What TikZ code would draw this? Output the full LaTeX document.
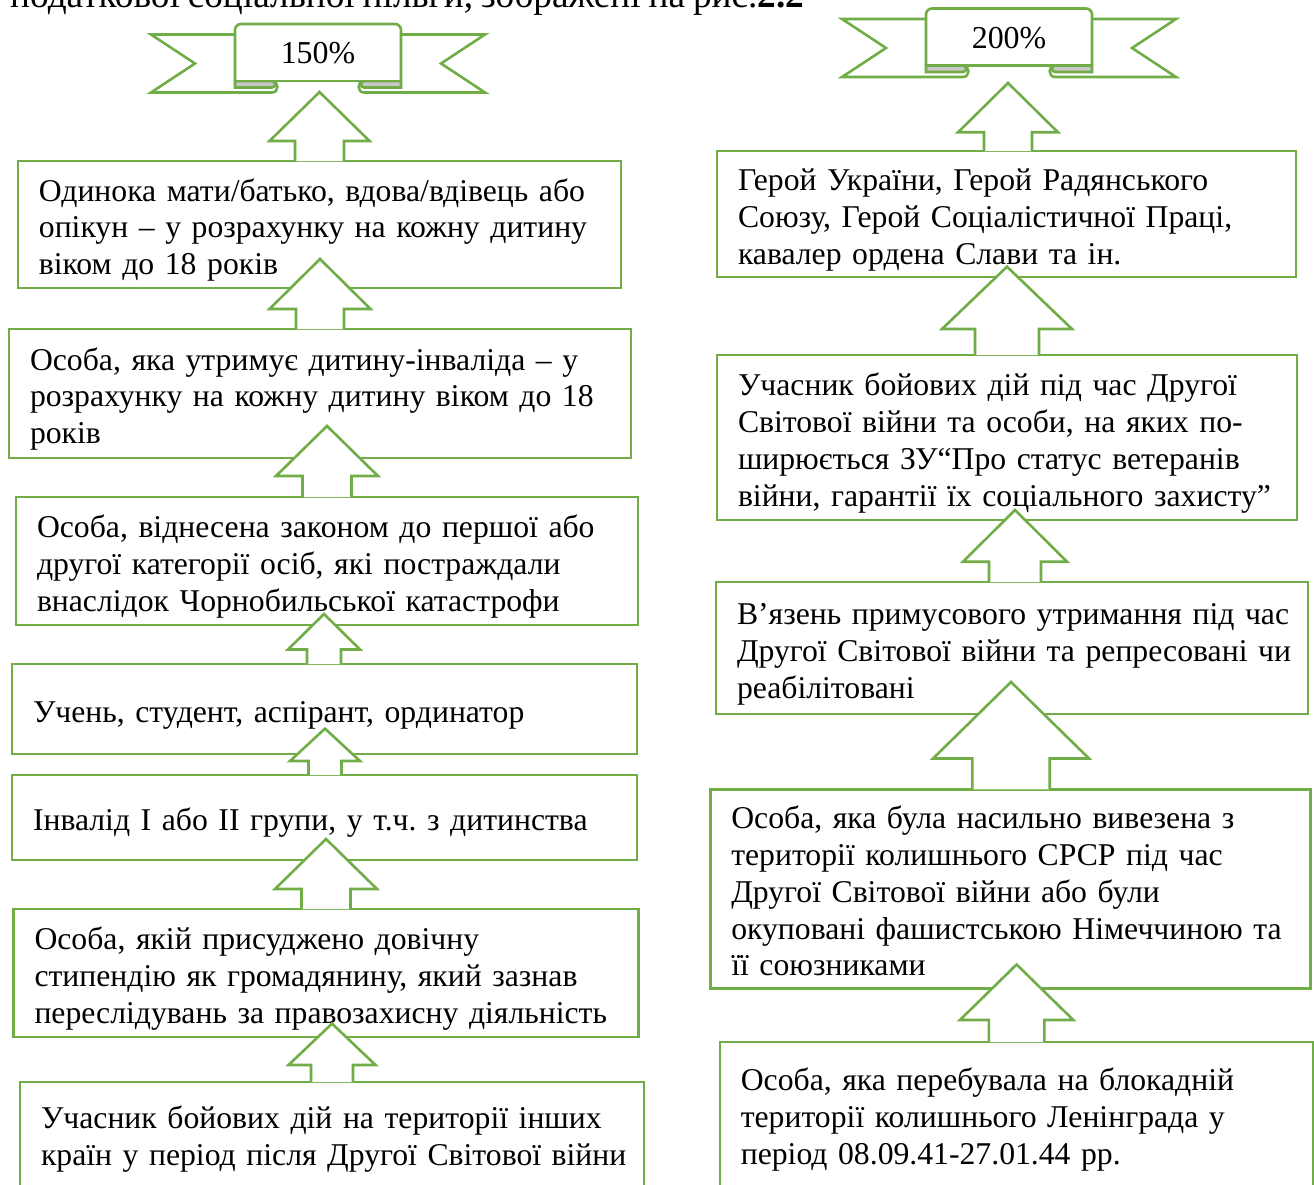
\documentclass[tikz,border=0pt]{standalone}
\usepackage{fontspec}
\setmainfont[WordSpace=0.85]{Liberation Serif}
\usetikzlibrary{calc}
\definecolor{green}{RGB}{112, 173, 71}
\definecolor{gray}{RGB}{200, 200, 200}
\frenchspacing

\tikzset{
  box/.style 2 args={draw=green, line width=2.6pt, fill=white, inner xsep=21pt,
    inner ysep=0pt, align=left, text width=#1, minimum height=#2,
    font=\fontsize{31.7}{36.8}\selectfont},
  uparrow/.style={draw=green, line width=2.6pt, fill=white},
  ribbon/.style={draw=green, line width=2.6pt, fill=white}
}

% lines of a box, kept as typed and set a little low
\newcommand{\lines}[1]{\raisebox{-6pt}[\height][\depth]{\begin{tabular}{@{}l@{}}#1\end{tabular}}}

% ribbon banner: centre, name, text
\newcommand{\ribbon}[3]{%
  \begin{scope}[shift={(#1)}]
    \draw[ribbon] (-83,-18) -- (-167,-18) -- (-123,11) -- (-167,40) -- (-46,40)
      to[out=0, in=0, looseness=1.6] (-46,28.5);
    \draw[ribbon] (83,-18) -- (167,-18) -- (123,11) -- (167,40) -- (46,40)
      to[out=180, in=180, looseness=1.6] (46,28.5);
    \draw[ribbon, fill=gray] (-83,28.5) -- (-46,28.5)
      to[out=0, in=0, looseness=1.6] (-46,35) -- (-83,35) -- cycle;
    \draw[ribbon, fill=gray] (83,28.5) -- (46,28.5)
      to[out=180, in=180, looseness=1.6] (46,35) -- (83,35) -- cycle;
    \draw[ribbon, rounded corners=6pt] (-83,28.5) -- (-83,-28.5) -- (83,-28.5) -- (83,28.5);
    \draw[ribbon] (-83,28.5) -- (83,28.5);
    \node[font=\fontsize{31.9}{36.8}\selectfont] (#2) at (0,1) {#3};
  \end{scope}}

\begin{document}
\begin{tikzpicture}[x=1pt, y=-1pt]
      \useasboundingbox (0,0) rectangle (1314,1185);
      \clip (0,0) rectangle (1314,1185);

      \node[anchor=base west, inner sep=0pt, font=\fontsize{37.3}{43}\selectfont] (caption) at (10,8)
        {податкової соціальної пільги, зображені на рис.\textbf{2.2}};

      \ribbon{318,52.5}{r150}{150\%}
      \ribbon{1009,37}{r200}{200\%}

      % left column
      \node[box={561pt}{127pt}] (b1) at (319.4,224.5) {\lines{Одинока мати/батько, вдова/вдівець або\\
        опікун – у розрахунку на кожну дитину\\ віком до 18 років}};
      \node[box={580pt}{129pt}] (b2) at (320,393.5) {\lines{Особа, яка утримує дитину-інваліда – у\\
        розрахунку на кожну дитину віком до 18\\ років}};
      \node[box={580pt}{128pt}] (b3) at (327,561) {\lines{Особа, віднесена законом до першої або\\
        другої категорії осіб, які постраждали\\ внаслідок Чорнобильської катастрофи}};
      \node[box={583pt}{90pt}] (b4) at (324.5,709) {\lines{Учень, студент, аспірант, ординатор}};
      \node[box={583pt}{85pt}] (b5) at (324.5,817.5) {\lines{Інвалід I або II групи, у т.ч. з дитинства}};
      \node[box={583pt}{128pt}] (b6) at (326,973) {\lines{Особа, якій присуджено довічну\\
        стипендію як громадянину, який зазнав\\ переслідувань за правозахисну діяльність}};
      \node[box={582pt}{104pt}] (b7) at (332,1134) {\lines{Учасник бойових дій на території інших\\
        країн у період після Другої Світової війни}};

      % right column
      \node[box={537pt}{126pt}] (r1) at (1006.5,214) {\lines{Герой України, Герой Радянського\\
        Союзу, Герой Соціалістичної Праці,\\ кавалер ордена Слави та ін.}};
      \node[box={538pt}{165pt}] (r2) at (1007,437.5) {\lines{Учасник бойових дій під час Другої\\
        Світової війни та особи, на яких по-\\ ширюється ЗУ“Про статус ветеранів\\
        війни, гарантії їх соціального захисту”}};
      \node[box={550pt}{132pt}] (r3) at (1012,648) {\lines{В’язень примусового утримання під час\\
        Другої Світової війни та репресовані чи\\ реабілітовані}};
      \node[box={558pt}{199.5pt}] (r4) at (1010.3,889) {\lines{Особа, яка була насильно вивезена з\\
        території колишнього СРСР під час\\ Другої Світової війни або були\\
        окуповані фашистською Німеччиною та\\ її союзниками}};
      \node[box={551pt}{144pt}] (r5) at (1016.3,1114) {\lines{Особа, яка перебувала на блокадній\\
        території колишнього Ленінграда у\\ період 08.09.41-27.01.44 рр.}};

      % block arrows: lower box / tip / head base / head and shaft half widths
      \foreach \lo/\tx/\ty/\hy/\hw/\sw [count=\i] in {
          b1/319.5/92/141/50/24.5, b2/320/259/309/50.5/24, b3/327/426/476/51/24.5,
          b4/324/614/649.5/36/17, b5/325/728.6/761/35/16.5, b6/326/839/889/51/24.5,
          b7/332/1023.6/1065/43.5/21,
          r1/1008/83/132.3/50/24, r2/1007/266.7/329/65/32, r3/1015/510/561.7/52/26,
          r4/1011/682/758.5/78/38.7, r5/1016.6/964.5/1020/56.7/27.8} {
        \coordinate (tip\i) at (\tx,\ty);
        \draw[uparrow] let \p1=(\lo.north) in
          ({(\tx-\sw)*1pt},{\y1-1.5pt}) -- (\tx-\sw,\hy) -- (\tx-\hw,\hy) -- (tip\i)
          -- (\tx+\hw,\hy) -- (\tx+\sw,\hy) -- ({(\tx+\sw)*1pt},{\y1-1.5pt});
      }
\end{tikzpicture}
\end{document}
